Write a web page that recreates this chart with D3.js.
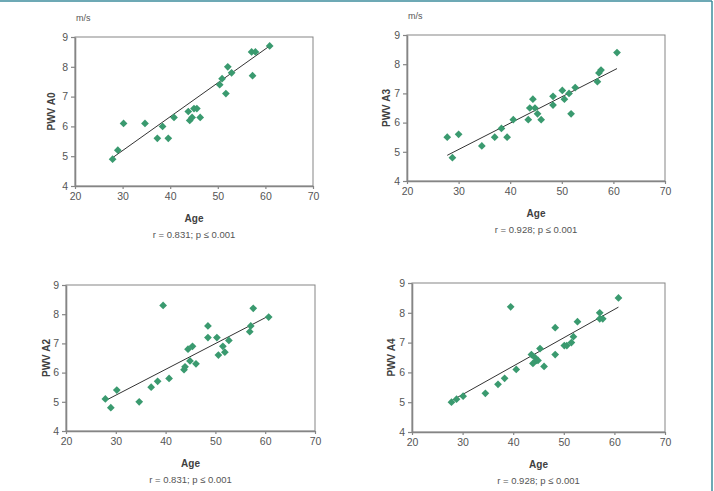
<!DOCTYPE html>
<html><head><meta charset="utf-8">
<script src="https://cdn.jsdelivr.net/npm/d3@7"></script>
<style>
html,body{margin:0;padding:0;background:#fff;}
svg{display:block;font-family:"Liberation Sans",Arial,sans-serif;}
</style></head>
<body>
<svg id="chart" width="714" height="491"></svg>
<script>
// ---- data ----
const xTicks = [20, 30, 40, 50, 60, 70];
const yTicks = [4, 5, 6, 7, 8, 9];

const ageA0 = [27.9, 29.0, 30.2, 34.7, 37.3, 38.4, 39.6, 40.8, 43.8, 44.1, 44.6, 45.0, 45.6, 46.3, 50.4, 50.9, 51.7, 52.1, 52.9, 57.1, 57.3, 57.9, 60.9];
const pwvA0 = [4.9, 5.2, 6.1, 6.1, 5.6, 6.0, 5.6, 6.3, 6.5, 6.2, 6.3, 6.6, 6.6, 6.3, 7.4, 7.6, 7.1, 8.0, 7.8, 8.5, 7.7, 8.5, 8.7];
const fitA0 = [[27.9, 4.95], [60.9, 8.7]];

const ageA3 = [27.8, 28.8, 30.0, 34.5, 37.0, 38.3, 39.4, 40.6, 43.5, 43.8, 44.4, 44.8, 45.3, 46.0, 48.3, 48.3, 50.1, 50.5, 51.4, 51.8, 52.6, 56.9, 57.2, 57.6, 60.7];
const pwvA3 = [5.5, 4.8, 5.6, 5.2, 5.5, 5.8, 5.5, 6.1, 6.1, 6.5, 6.8, 6.5, 6.3, 6.1, 6.9, 6.6, 7.1, 6.8, 7.0, 6.3, 7.2, 7.4, 7.7, 7.8, 8.4];
const fitA3 = [[27.8, 4.88], [60.7, 7.85]];

const ageA2 = [27.9, 29.0, 30.2, 34.7, 37.1, 38.4, 39.5, 40.7, 43.7, 43.9, 44.5, 44.9, 45.4, 46.1, 48.5, 48.5, 50.3, 50.6, 51.5, 51.9, 52.7, 56.9, 57.1, 57.6, 60.7];
const pwvA2 = [5.1, 4.8, 5.4, 5.0, 5.5, 5.7, 8.3, 5.8, 6.1, 6.2, 6.8, 6.4, 6.9, 6.3, 7.6, 7.2, 7.2, 6.6, 6.9, 6.7, 7.1, 7.4, 7.6, 8.2, 7.9];
const fitA2 = [[27.9, 5.04], [60.7, 7.94]];

const ageA4 = [27.8, 28.8, 30.1, 34.5, 37.0, 38.3, 39.5, 40.6, 43.6, 43.9, 44.3, 44.6, 44.9, 45.3, 46.1, 48.3, 48.3, 50.1, 50.6, 51.5, 51.9, 52.7, 57.1, 57.1, 57.7, 60.8];
const pwvA4 = [5.0, 5.1, 5.2, 5.3, 5.6, 5.8, 8.2, 6.1, 6.6, 6.3, 6.5, 6.4, 6.4, 6.8, 6.2, 7.5, 6.6, 6.9, 6.9, 7.0, 7.2, 7.7, 8.0, 7.8, 7.8, 8.5];
const fitA4 = [[27.8, 5.05], [60.8, 8.19]];

const yLabels = ["PWV A0", "PWV A3", "PWV A2", "PWV A4"];
const stats = ["r = 0.831; p ≤ 0.001", "r = 0.928; p ≤ 0.001", "r = 0.831; p ≤ 0.001", "r = 0.928; p ≤ 0.001"];
const unitLabel = "m/s";
const xTitle = "Age";

// ---- layout ----
const panels = [
  {ages: ageA0, vals: pwvA0, fit: fitA0, yl: yLabels[0], st: stats[0], unit: true,  L: 75,  R: 313, T: 37,  B: 186, ylx: 51},
  {ages: ageA3, vals: pwvA3, fit: fitA3, yl: yLabels[1], st: stats[1], unit: true,  L: 407, R: 665, T: 35,  B: 181, ylx: 386},
  {ages: ageA2, vals: pwvA2, fit: fitA2, yl: yLabels[2], st: stats[2], unit: false, L: 66,  R: 315, T: 285, B: 431, ylx: 46},
  {ages: ageA4, vals: pwvA4, fit: fitA4, yl: yLabels[3], st: stats[3], unit: false, L: 412, R: 665, T: 283, B: 432, ylx: 391}
];

const svg = d3.select("#chart");
const axisColor = "#858585";
const textColor = "#555555";
const markColor = "#3a9a6f";

// outer frame (top and right edges)
svg.append("line").attr("x1", 0).attr("x2", 712).attr("y1", 1).attr("y2", 1)
  .attr("stroke", "#3c8c9c").attr("stroke-width", 1.5);
svg.append("line").attr("x1", 712).attr("x2", 712).attr("y1", 1).attr("y2", 491)
  .attr("stroke", "#3c8c9c").attr("stroke-width", 1.5);

panels.forEach(p => {
  const x = d3.scaleLinear().domain([20, 70]).range([p.L, p.R]);
  const y = d3.scaleLinear().domain([4, 9]).range([p.B, p.T]);
  const g = svg.append("g");

  // plot frame
  g.append("rect").attr("x", p.L).attr("y", p.T).attr("width", p.R - p.L).attr("height", p.B - p.T)
    .attr("fill", "none").attr("stroke", axisColor).attr("stroke-width", 1);

  const xa = g.append("g").attr("transform", `translate(0,${p.B})`)
    .call(d3.axisBottom(x).tickValues(xTicks).tickFormat(d3.format("d")).tickSize(3).tickSizeOuter(0).tickPadding(4));
  const ya = g.append("g").attr("transform", `translate(${p.L},0)`)
    .call(d3.axisLeft(y).tickValues(yTicks).tickFormat(d3.format("d")).tickSize(4).tickSizeOuter(0).tickPadding(3));
  [xa, ya].forEach(a => {
    a.select(".domain").attr("stroke", axisColor).attr("stroke-width", 1.6);
    a.selectAll(".tick line").attr("stroke", axisColor).attr("stroke-width", 1.2);
    a.selectAll(".tick text").attr("fill", textColor).attr("font-size", 10.5)
      .attr("font-family", "'Liberation Sans', Arial, sans-serif");
  });

  // regression line
  g.append("line")
    .attr("x1", x(p.fit[0][0])).attr("y1", y(p.fit[0][1]))
    .attr("x2", x(p.fit[1][0])).attr("y2", y(p.fit[1][1]))
    .attr("stroke", "#333").attr("stroke-width", 1);

  // markers
  const sym = d3.symbol().type(d3.symbolSquare).size(30);
  g.selectAll("path.pt").data(p.ages.map((a, i) => [a, p.vals[i]])).enter()
    .append("path").attr("class", "pt")
    .attr("d", sym)
    .attr("transform", d => `translate(${x(d[0])},${y(d[1])}) rotate(45)`)
    .attr("fill", markColor);

  // titles
  const cx = (p.L + p.R) / 2;
  g.append("text").attr("x", cx).attr("y", p.B + 36).attr("text-anchor", "middle")
    .attr("font-size", 10).attr("font-weight", "bold").attr("fill", "#404040").text(xTitle);
  g.append("text").attr("x", cx).attr("y", p.B + 52).attr("text-anchor", "middle")
    .attr("font-size", 9.5).attr("fill", textColor).text(p.st);
  g.append("text")
    .attr("transform", `translate(${p.ylx},${(p.T + p.B) / 2}) rotate(-90)`)
    .attr("text-anchor", "middle").attr("dy", "0.35em")
    .attr("font-size", 10).attr("font-weight", "bold").attr("fill", "#404040").text(p.yl);
  if (p.unit) {
    g.append("text").attr("x", p.L + 1).attr("y", p.T - 16)
      .attr("font-size", 9).attr("fill", textColor).text(unitLabel);
  }
});
</script>
</body></html>
